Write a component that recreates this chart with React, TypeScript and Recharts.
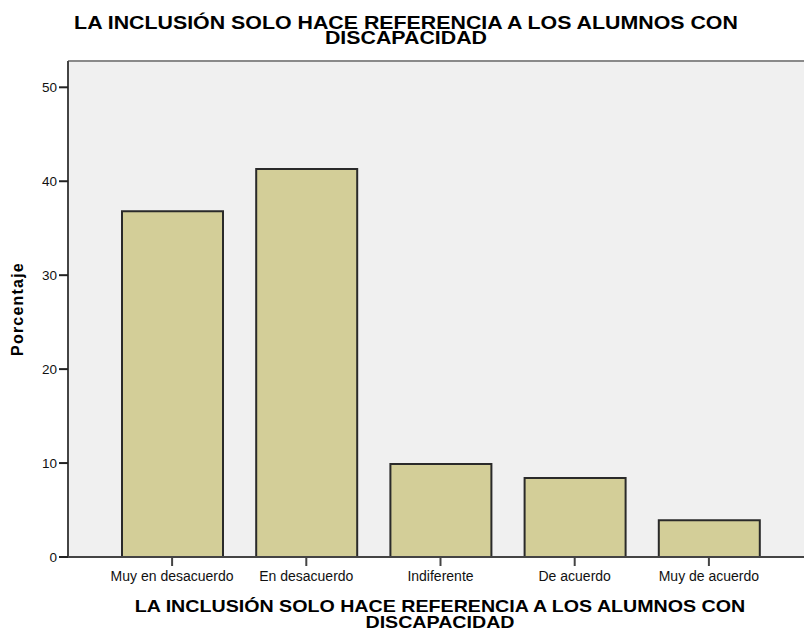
import React from 'react'
import { Bar, BarChart, CartesianGrid, ReferenceLine, XAxis, YAxis } from 'recharts'

const categories = ['Muy en desacuerdo', 'En desacuerdo', 'Indiferente', 'De acuerdo', 'Muy de acuerdo']
const percentages = [36.8, 41.3, 9.9, 8.4, 3.9]
const yTicks = [0, 10, 20, 30, 40, 50]
const yMax = 52.8
const title = 'LA INCLUSIÓN SOLO HACE REFERENCIA A LOS ALUMNOS CON\nDISCAPACIDAD'

const data = categories.map((c, i) => ({ name: c, value: percentages[i] }))

const font = '"Liberation Sans", Arial, sans-serif'

export default function App() {
  return (
    <div style={{ position: 'absolute', left: 0, top: 0, width: 804, height: 633, overflow: 'hidden', background: '#fff', fontFamily: font }}>
      <div
        style={{
          position: 'absolute', top: 16, left: 6, width: 800, textAlign: 'center', whiteSpace: 'pre-line',
          fontSize: 18, lineHeight: '15px', fontWeight: 'bold', color: '#000',
          transform: 'scaleX(1.186)', transformOrigin: '400px 0',
        }}
      >
        {title}
      </div>
      <BarChart
        width={830}
        height={633}
        data={data}
        margin={{ top: 61, right: 17, bottom: 56, left: 8 }}
        barSize={101}
      >
        <CartesianGrid horizontal={false} vertical={false} fill="#f0f0f0" />
        <ReferenceLine y={yMax} stroke="#8a8a8a" strokeWidth={2} />
        <XAxis
          dataKey="name"
          padding={{ left: 37, right: 37 }}
          height={20}
          tickSize={9}
          tickMargin={5}
          axisLine={{ stroke: '#444', strokeWidth: 2 }}
          tickLine={{ stroke: '#444', strokeWidth: 2 }}
          tick={{ fill: '#111', fontSize: 14, fontFamily: font }}
          interval={0}
        />
        <YAxis
          width={60}
          domain={[0, yMax]}
          ticks={yTicks}
          tickSize={9}
          tickMargin={2}
          axisLine={{ stroke: '#444', strokeWidth: 2 }}
          tickLine={{ stroke: '#222', strokeWidth: 2 }}
          tick={{ fill: '#111', fontSize: 13.5, fontFamily: font }}
          label={{
            value: 'Porcentaje', angle: -90, position: 'insideLeft', offset: 9,
            style: { fontWeight: 'bold', fontSize: 16, letterSpacing: 1.2, fill: '#000', fontFamily: font, textAnchor: 'middle' },
          }}
        />
        <Bar dataKey="value" fill="#d3ce98" stroke="#2a2a2a" strokeWidth={2} isAnimationActive={false} />
      </BarChart>
      <div
        style={{
          position: 'absolute', top: 599, left: 40, width: 800, textAlign: 'center', whiteSpace: 'pre-line',
          fontSize: 17, lineHeight: '16px', fontWeight: 'bold', color: '#000',
          transform: 'scaleX(1.155)', transformOrigin: '400px 0',
        }}
      >
        {title}
      </div>
    </div>
  )
}
